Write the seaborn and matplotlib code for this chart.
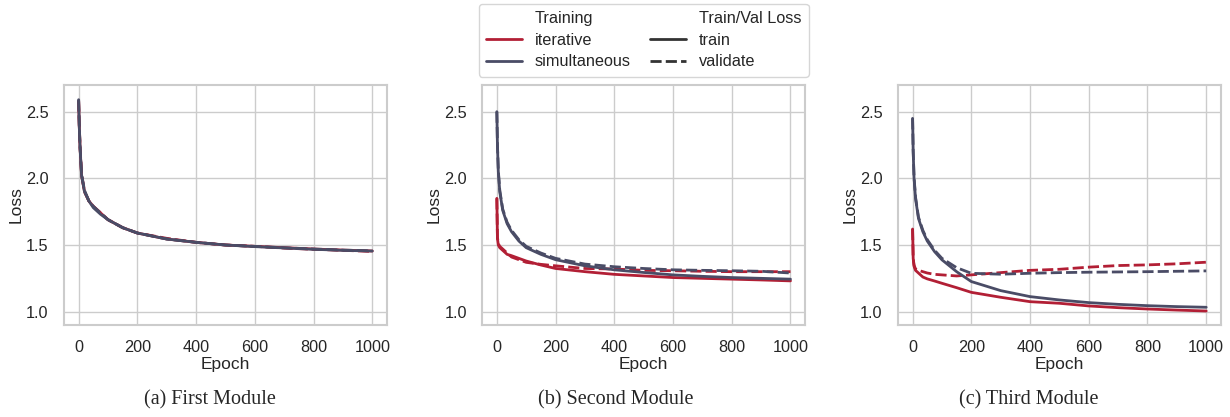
import matplotlib
matplotlib.use("Agg")
import matplotlib.pyplot as plt
import pandas as pd
import seaborn as sns

# Loss values at these epochs
epochs = [0, 2, 5, 10, 20, 35, 50, 75, 100, 150, 200, 300, 400, 500, 600, 700, 800, 900, 1000]

# (a) First Module -- all four curves almost on top of each other
a_iter_train = [2.58, 2.40, 2.22, 2.02, 1.90, 1.83, 1.79, 1.74, 1.69, 1.63, 1.59, 1.545, 1.52, 1.50, 1.49, 1.48, 1.47, 1.462, 1.455]
a_iter_val   = [2.58, 2.41, 2.23, 2.03, 1.90, 1.83, 1.79, 1.74, 1.69, 1.63, 1.59, 1.55, 1.52, 1.50, 1.49, 1.477, 1.468, 1.46, 1.452]
a_sim_train  = [2.59, 2.40, 2.22, 2.02, 1.90, 1.83, 1.78, 1.73, 1.69, 1.63, 1.59, 1.545, 1.52, 1.50, 1.488, 1.478, 1.468, 1.46, 1.455]
a_sim_val    = [2.59, 2.41, 2.23, 2.03, 1.91, 1.83, 1.79, 1.74, 1.69, 1.63, 1.59, 1.545, 1.52, 1.50, 1.49, 1.479, 1.47, 1.462, 1.456]

# (b) Second Module
b_iter_train = [1.85, 1.55, 1.50, 1.48, 1.46, 1.43, 1.42, 1.40, 1.38, 1.35, 1.324, 1.30, 1.28, 1.268, 1.256, 1.25, 1.244, 1.238, 1.231]
b_iter_val   = [1.85, 1.56, 1.51, 1.49, 1.47, 1.44, 1.41, 1.39, 1.37, 1.355, 1.344, 1.324, 1.32, 1.31, 1.307, 1.303, 1.30, 1.30, 1.30]
b_sim_train  = [2.50, 2.25, 2.05, 1.90, 1.76, 1.66, 1.60, 1.53, 1.48, 1.43, 1.39, 1.344, 1.314, 1.294, 1.276, 1.265, 1.256, 1.25, 1.244]
b_sim_val    = [2.50, 2.26, 2.06, 1.91, 1.77, 1.67, 1.61, 1.54, 1.49, 1.44, 1.40, 1.357, 1.337, 1.324, 1.314, 1.31, 1.307, 1.303, 1.29]

# (c) Third Module
c_iter_train = [1.62, 1.40, 1.34, 1.31, 1.29, 1.26, 1.246, 1.23, 1.213, 1.18, 1.145, 1.108, 1.075, 1.063, 1.043, 1.03, 1.02, 1.012, 1.005]
c_iter_val   = [1.62, 1.40, 1.35, 1.32, 1.31, 1.30, 1.29, 1.28, 1.276, 1.268, 1.276, 1.293, 1.31, 1.318, 1.334, 1.346, 1.351, 1.359, 1.371]
c_sim_train  = [2.45, 2.20, 2.00, 1.85, 1.70, 1.60, 1.53, 1.45, 1.389, 1.30, 1.226, 1.158, 1.113, 1.088, 1.068, 1.055, 1.045, 1.038, 1.033]
c_sim_val    = [2.45, 2.21, 2.01, 1.86, 1.71, 1.61, 1.54, 1.46, 1.40, 1.33, 1.288, 1.281, 1.288, 1.293, 1.296, 1.298, 1.30, 1.303, 1.306]

methods = ["iterative", "simultaneous"]
splits = ["train", "validate"]
panels = {
    "(a) First Module": [a_iter_train, a_iter_val, a_sim_train, a_sim_val],
    "(b) Second Module": [b_iter_train, b_iter_val, b_sim_train, b_sim_val],
    "(c) Third Module": [c_iter_train, c_iter_val, c_sim_train, c_sim_val],
}
captions = list(panels.keys())
caption_x = [0.171, 0.501, 0.836]
palette = {"iterative": "#b21f35", "simultaneous": "#4a4c66"}


def make_frame(curves):
    rows = []
    k = 0
    for m in methods:
        for s in splits:
            for e, v in zip(epochs, curves[k]):
                rows.append({"Epoch": e, "Loss": v, "Training": m, "Train/Val Loss": s})
            k += 1
    return pd.DataFrame(rows)


sns.set_theme(style="whitegrid")
plt.rcParams["font.family"] = ["Liberation Sans", "DejaVu Sans"]

fig = plt.figure(figsize=(12.3, 4.17), dpi=100)
lefts = [0.052, 0.392, 0.730]

for i, name in enumerate(captions):
    ax = fig.add_axes([lefts[i], 0.2206, 0.2626, 0.5755])
    df = make_frame(panels[name])
    sns.lineplot(data=df, x="Epoch", y="Loss", hue="Training", style="Train/Val Loss",
                 palette=palette, linewidth=2, ax=ax, legend=(i == 1))
    ax.set_ylim(0.9, 2.7)
    ax.set_xlim(-50, 1050)
    ax.set_xticks([0, 200, 400, 600, 800, 1000])
    ax.set_yticks([1.0, 1.5, 2.0, 2.5])
    ax.tick_params(labelsize=11.7, pad=5)
    ax.set_xlabel("Epoch", fontsize=12.5, labelpad=1)
    ax.set_ylabel("Loss", fontsize=12.5, labelpad=2)
    for sp in ax.spines.values():
        sp.set_color("#cccccc")
        sp.set_linewidth(1.5)
    fig.text(caption_x[i], 0.04, name, ha="center", va="center",
             fontsize=14.5, family=["Liberation Serif", "DejaVu Serif"])
    if i == 1:
        sns.move_legend(ax, "upper center", bbox_to_anchor=(0.5, 1.338), ncol=2,
                        title=None, frameon=True, fontsize=11.7, handlelength=2.2,
                        columnspacing=1.2, borderpad=0.45, labelspacing=0.4,
                        borderaxespad=0)

fig.savefig("out.png", dpi=100)
